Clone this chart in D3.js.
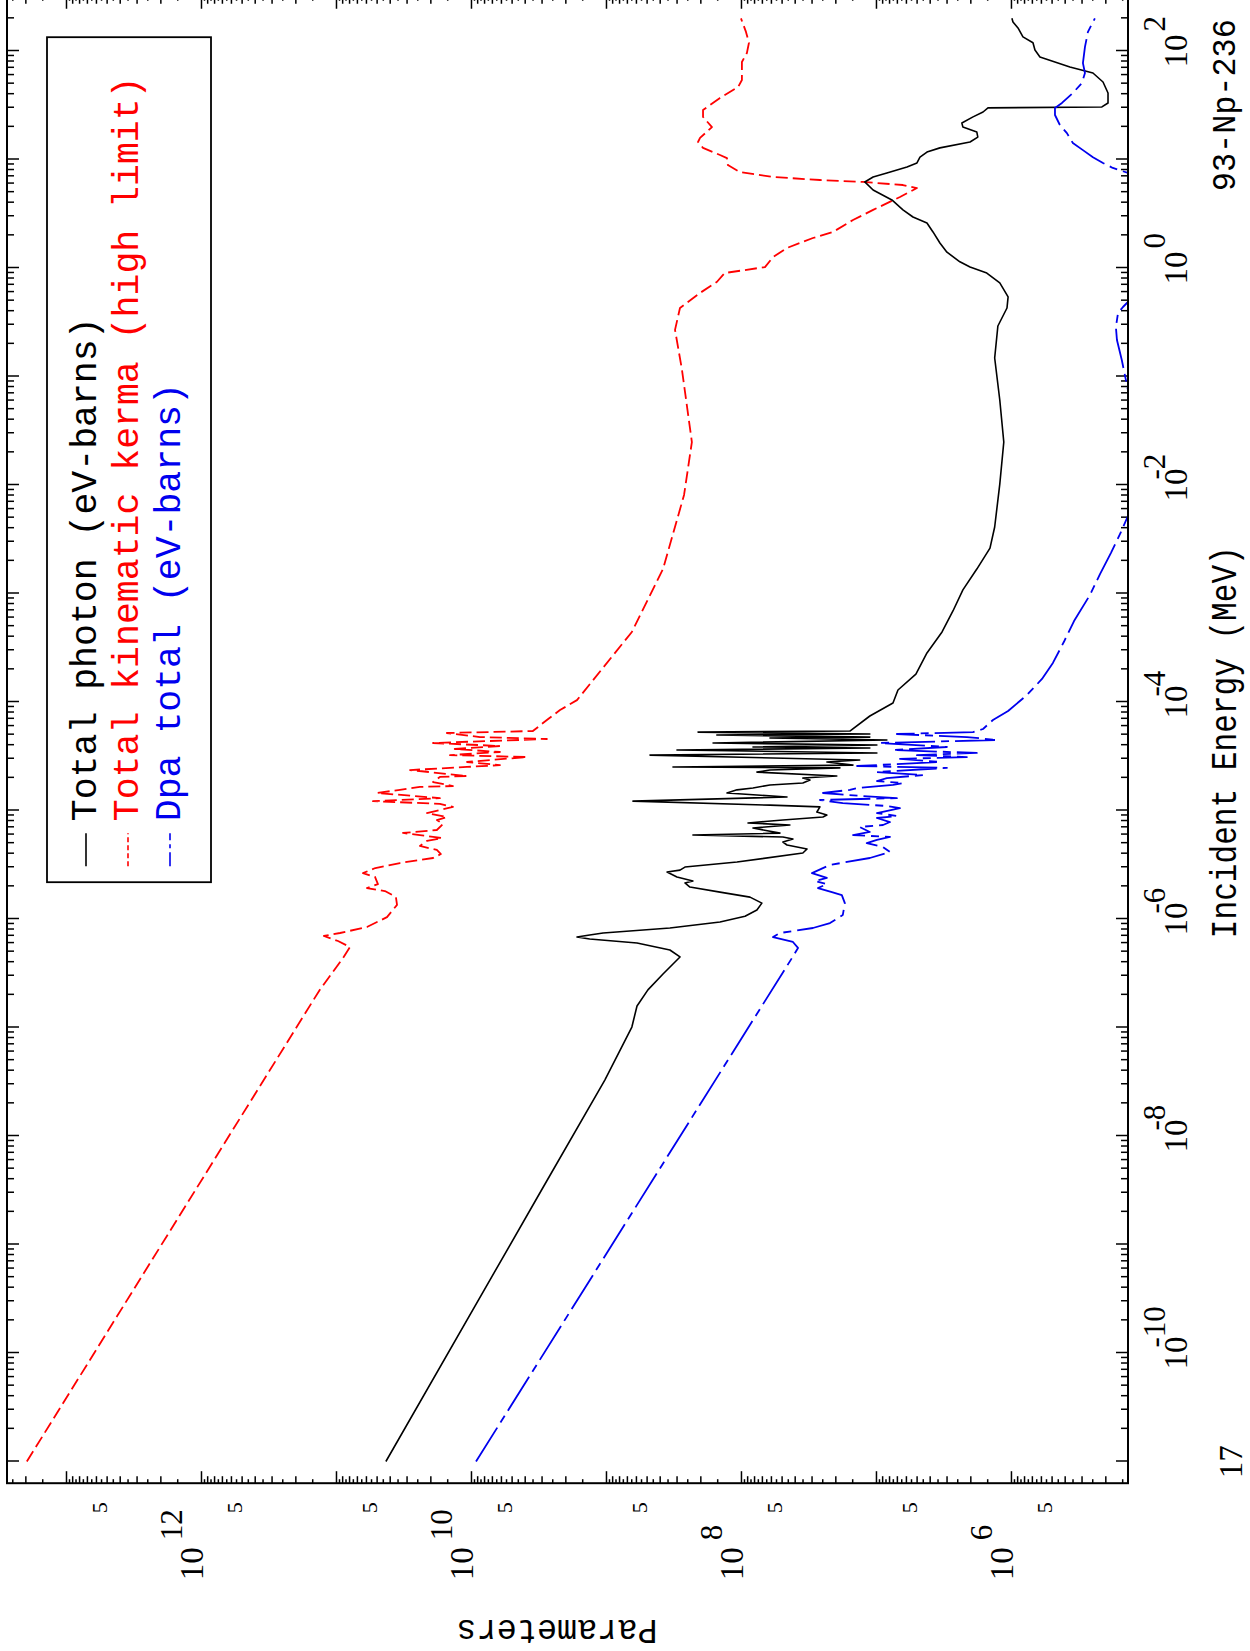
<!DOCTYPE html>
<html><head><meta charset="utf-8">
<script src="https://cdn.jsdelivr.net/npm/d3@7/dist/d3.min.js"></script>
<style>html,body{margin:0;padding:0;background:#fff;} svg{display:block}</style>
</head><body>
<svg id="chart" width="1250" height="1651"></svg>
<script>
// ---------------- DATA ----------------
// axis ranges (MeV on energy axis, parameter value on the other)
const energyDomain = [Math.pow(10, -11.2), Math.pow(10, 2.5)];
const paramDomain  = [Math.pow(10, 13.437), Math.pow(10, 5.133)];

const energyDecades   = [-11,-10,-9,-8,-7,-6,-5,-4,-3,-2,-1,0,1,2];
const energyMinorMult = [2,3,4,5,6,7,8,9];
const paramDecades    = [5,6,7,8,9,10,11,12,13];
const paramMinorInt   = [2,3,4,5,6,7,8,9];
const paramMinorHalf  = [1.5,2.5,3.5,4.5,5.5,6.5,7.5,8.5,9.5];

const energyLabelExps = [-10,-8,-6,-4,-2,0,2];
const paramLabelExps  = [12,10,8,6];
const paramFiveExps   = [12,11,10,9,8,7,6,5];

const legendLabels = ["Total photon (eV-barns)", "Total kinematic kerma (high limit)", "Dpa total (eV-barns)"];
const seriesColors = ["#000000", "#ff0000", "#0000ee"];

// Total photon (eV-barns): [energy MeV, value]
const photon = [
[1e-11,4.27e10],[3.18e-9,3.0e9],[3.28e-8,1.02e9],[1.01e-7,6.43e8],[1.58e-7,5.89e8],[2.22e-7,4.89e8],[3.11e-7,3.78e8],[4.47e-7,2.83e8],[5.18e-7,3.36e8],[6.01e-7,5.89e8],[6.55e-7,1.32e9],[6.82e-7,1.64e9],[7.11e-7,1.32e9],[7.43e-7,1.05e9],[8.26e-7,3.36e8],[9.38e-7,1.43e8],[1.06e-6,9.33e7],[1.21e-6,7.62e7],[1.40e-6,7.00e7],[1.59e-6,8.57e7],[1.77e-6,1.43e8],[1.97e-6,2.39e8],[2.15e-6,2.60e8],[2.24e-6,2.27e8],[2.44e-6,2.98e8],[2.71e-6,3.53e8],[2.82e-6,2.83e8],[3.01e-6,2.60e8],[3.35e-6,1.07e8],[4.06e-6,3.48e7],[4.42e-6,3.24e7],[4.81e-6,4.56e7],[5.12e-6,4.89e7],[5.46e-6,4.12e7],[5.70e-6,4.89e7],[5.94e-6,2.27e8],[6.19e-6,5.14e7],[6.90e-6,8.15e7],[7.35e-6,4.34e7],[7.67e-6,8.87e7],[8.17e-6,4.89e7],[8.71e-6,2.47e7],[9.08e-6,2.31e7],[9.68e-6,2.74e7],[1.08e-5,2.60e7],[1.12e-5,6.10e7],[1.22e-5,6.31e8],[1.33e-5,4.56e7],[1.39e-5,7.62e7],[1.45e-5,1.27e8],[1.55e-5,1.07e8],[1.61e-5,8.15e7],[1.72e-5,6.10e7],[1.79e-5,3.48e7],[1.91e-5,3.08e7],[1.99e-5,3.48e7],[2.08e-5,1.95e7],[2.26e-5,7.62e7],[2.36e-5,6.10e7],[2.47e-5,1.85e7],[2.52e-5,3.19e8],[2.62e-5,1.48e7],[2.80e-5,2.31e7],[2.92e-5,1.32e7],[3.24e-5,4.72e8],[3.39e-5,9.84e6],[3.61e-5,2.98e8],[3.77e-5,1.11e7],[3.85e-5,8.15e7],[4.01e-5,9.84e6],[4.19e-5,1.61e8],[4.47e-5,8.30e6],[4.66e-5,6.10e7],[4.75e-5,1.11e7],[4.97e-5,1.51e8],[5.07e-5,1.11e7],[5.28e-5,2.08e8],[5.40e-5,1.56e7],[7.43e-5,1.11e7],[9.79e-5,7.48e6],[1.29e-4,6.87e6],[1.81e-4,5.06e6],[2.83e-4,4.19e6],[4.42e-4,3.24e6],[6.90e-4,2.69e6],[1.08e-3,2.27e6],[1.68e-3,1.79e6],[2.62e-3,1.43e6],[4.10e-3,1.32e6],[1.02e-2,1.21e6],[2.49e-2,1.13e6],[6.07e-2,1.21e6],[0.148,1.32e6],[0.292,1.25e6],[0.428,1.07e6],[0.541,1.05e6],[0.728,1.21e6],[0.899,1.51e6],[1.02,2.01e6],[1.14,2.39e6],[1.40,2.98e6],[1.70,3.36e6],[2.15,3.78e6],[2.60,4.19e6],[2.95,5.32e6],[3.43,6.31e6],[4.24,7.62e6],[5.24,1.05e7],[6.21,1.21e7],[6.90,1.05e7],[7.52,8.30e6],[8.53,5.89e6],[9.29,4.97e6],[10.5,4.72e6],[11.7,4.19e6],[12.8,3.36e6],[14.5,2.01e6],[16.1,1.76e6],[17.9,1.79e6],[19.9,2.27e6],[21.7,2.31e6],[24.7,1.91e6],[27.4,1.61e6],[29.9,1.48e6],[30.5,2.12e5],[33.2,1.91e5],[41.0,1.91e5],[51.8,2.08e5],[62.7,2.47e5],[71.1,3.66e5],[88.1,6.10e5],[102,6.64e5],[119,6.87e5],[135,8.15e5],[163,8.87e5],[185,9.66e5],[200,9.84e5]
];

// Total kinematic kerma (high limit)
const kerma = [
[1e-11,1.95e13],[2.22e-7,1.32e11],[4.37e-7,8.87e10],[5.52e-7,7.87e10],[6.27e-7,9.66e10],[6.97e-7,1.23e11],[7.43e-7,9.33e10],[8.43e-7,5.90e10],[1.04e-6,4.19e10],[1.35e-6,3.53e10],[1.60e-6,3.60e10],[1.81e-6,4.34e10],[1.93e-6,5.90e10],[2.10e-6,4.89e10],[2.44e-6,5.14e10],[2.65e-6,6.31e10],[2.95e-6,5.11e10],[3.28e-6,3.36e10],[3.65e-6,1.91e10],[3.97e-6,1.67e10],[4.33e-6,1.79e10],[4.71e-6,2.39e10],[5.24e-6,2.12e10],[5.57e-6,1.64e10],[5.94e-6,2.39e10],[6.21e-6,3.19e10],[6.61e-6,1.79e10],[7.50e-6,1.61e10],[8.17e-6,1.79e10],[8.71e-6,1.51e10],[9.48e-6,2.12e10],[1.08e-5,1.36e10],[1.15e-5,1.70e10],[1.22e-5,5.32e10],[1.30e-5,1.70e10],[1.45e-5,4.97e10],[1.55e-5,3.36e10],[1.65e-5,2.39e10],[1.68e-5,1.36e10],[1.83e-5,1.91e10],[2.04e-5,1.70e10],[2.08e-5,1.07e10],[2.36e-5,2.83e10],[2.52e-5,1.07e10],[2.62e-5,6.10e9],[2.80e-5,1.07e10],[3.11e-5,3.85e9],[3.24e-5,1.43e10],[3.46e-5,6.10e9],[3.69e-5,1.32e10],[3.93e-5,6.10e9],[4.19e-5,1.91e10],[4.56e-5,2.74e9],[4.75e-5,8.57e9],[5.18e-5,1.51e10],[5.40e-5,3.48e9],[6.82e-5,2.74e9],[8.43e-5,2.19e9],[1.04e-4,1.64e9],[4.42e-4,6.43e8],[1.68e-3,3.78e8],[8.09e-3,2.64e8],[2.49e-2,2.31e8],[0.117,2.74e8],[0.269,3.08e8],[0.428,2.83e8],[0.589,2.01e8],[0.743,1.51e8],[0.899,1.32e8],[1.02,6.64e7],[1.26,5.79e7],[1.53,4.56e7],[1.89,2.93e7],[2.15,2.08e7],[2.77,1.48e7],[3.43,1.05e7],[4.51,6.64e6],[5.46,4.97e6],[5.82,6.31e6],[6.21,1.25e7],[6.47,2.60e7],[6.90,5.79e7],[7.67,1.02e8],[8.89,1.25e8],[10.3,1.27e8],[11.0,1.43e8],[12.8,1.91e8],[14.5,2.08e8],[15.8,2.01e8],[19.9,1.64e8],[24.7,1.91e8],[28.6,1.91e8],[36.9,1.43e8],[46.6,1.05e8],[54.1,9.84e7],[79.2,9.84e7],[95.9,9.04e7],[119,8.73e7],[150,9.18e7],[200,1.0e8]
];

// Dpa total (eV-barns)
const dpa = [
[1e-11,9.18e9],[4.37e-7,4.19e7],[5.41e-7,3.78e7],[6.14e-7,4.12e7],[6.82e-7,5.79e7],[7.43e-7,5.14e7],[8.26e-7,2.93e7],[9.18e-7,2.19e7],[1.09e-6,1.76e7],[1.40e-6,1.70e7],[1.66e-6,1.79e7],[1.77e-6,2.12e7],[1.93e-6,2.69e7],[2.10e-6,2.31e7],[2.24e-6,2.83e7],[2.39e-6,2.31e7],[2.65e-6,2.98e7],[3.15e-6,2.19e7],[3.65e-6,1.11e7],[4.14e-6,7.87e6],[4.60e-6,8.87e6],[5.01e-6,1.17e7],[5.35e-6,9.84e6],[5.70e-6,7.87e6],[5.94e-6,1.48e7],[6.34e-6,1.11e7],[7.05e-6,1.32e7],[7.35e-6,8.87e6],[7.83e-6,7.87e6],[8.53e-6,9.84e6],[8.89e-6,7.00e6],[9.48e-6,9.84e6],[1.05e-5,6.64e6],[1.10e-5,8.30e6],[1.17e-5,1.76e7],[1.25e-5,2.60e7],[1.30e-5,7.00e6],[1.39e-5,1.64e7],[1.45e-5,2.47e7],[1.55e-5,1.56e7],[1.61e-5,1.38e7],[1.72e-5,7.48e6],[1.79e-5,6.31e6],[1.87e-5,9.84e6],[1.99e-5,8.30e6],[2.12e-5,4.49e6],[2.26e-5,9.84e6],[2.47e-5,2.98e6],[2.57e-5,1.38e7],[2.80e-5,3.36e6],[2.99e-5,6.64e6],[3.11e-5,2.12e6],[3.24e-5,4.97e6],[3.39e-5,1.79e6],[3.61e-5,7.48e6],[3.85e-5,2.98e6],[4.19e-5,9.33e6],[4.47e-5,1.27e6],[4.75e-5,2.12e6],[5.07e-5,7.00e6],[5.28e-5,1.91e6],[5.64e-5,1.61e6],[6.82e-5,1.36e6],[8.26e-5,1.05e6],[1.16e-4,7.62e5],[1.63e-4,5.89e5],[2.29e-4,4.89e5],[3.57e-4,4.06e5],[5.57e-4,3.41e5],[9.68e-4,2.60e5],[1.51e-3,2.19e5],[2.36e-3,1.82e5],[3.69e-3,1.53e5],[5.18e-3,1.36e5],[2.10e-2,7.2e4],[7.52e-2,1.36e5],[0.142,1.51e5],[0.217,1.64e5],[0.286,1.67e5],[0.385,1.61e5],[0.437,1.48e5],[0.486,1.36e5],[1.81,7.9e4],[7.52,1.36e5],[8.36,1.76e5],[9.29,2.08e5],[10.5,2.47e5],[12.2,2.93e5],[14.2,3.48e5],[17.5,3.85e5],[20.8,4.34e5],[25.7,4.72e5],[29.9,4.72e5],[33.2,4.19e5],[41.0,3.48e5],[50.7,2.98e5],[62.7,2.83e5],[77.4,2.93e5],[109,2.83e5],[150,2.69e5],[200,2.39e5]
];

// ---------------- DRAWING ----------------
const svg = d3.select('#chart');
svg.append('rect').attr('width',1250).attr('height',1651).attr('fill','#fff');
const W = 1486.45, H = 1121;
// the whole plot is drawn in its natural orientation and then turned a quarter-turn
const g = svg.append('g').attr('transform','translate(7,1483.2) rotate(-90)');
const x = d3.scaleLog().domain(energyDomain).range([0, W]);
const y = d3.scaleLog().domain(paramDomain).range([0, H]);

g.append('clipPath').attr('id','plotclip').append('rect').attr('width',W).attr('height',H);

const serif = "'Liberation Serif','DejaVu Serif',serif";
const mono = "'Liberation Mono','DejaVu Sans Mono',monospace";

// tick value sets
const eMaj = energyDecades.map(e => Math.pow(10,e));
const eMin = [];
energyDecades.forEach(e => energyMinorMult.forEach(m => { const v = m*Math.pow(10,e); if (v>=energyDomain[0] && v<=energyDomain[1]) eMin.push(v); }));
const pMaj = paramDecades.map(e => Math.pow(10,e)).filter(v => v<=paramDomain[0] && v>=paramDomain[1]);
const pInt = [], pHalf = [];
paramDecades.forEach(e => {
  paramMinorInt.forEach(m => { const v=m*Math.pow(10,e); if (v<=paramDomain[0] && v>=paramDomain[1]) pInt.push(v); });
  paramMinorHalf.forEach(m => { const v=m*Math.pow(10,e); if (v<=paramDomain[0] && v>=paramDomain[1]) pHalf.push(v); });
});

function drawAxis(axisFn, scale, vals, len, tx, ty) {
  const a = axisFn(scale).tickValues(vals).tickSize(-len).tickSizeOuter(0).tickFormat('');
  const ag = g.append('g').attr('transform', `translate(${tx},${ty})`).call(a);
  ag.select('.domain').remove();
  ag.selectAll('line').attr('stroke','#000').attr('stroke-width',1.5);
}
// energy axis (bottom and top of natural frame)
drawAxis(d3.axisBottom, x, eMaj, 12, 0, H);
drawAxis(d3.axisBottom, x, eMin, 7, 0, H);
drawAxis(d3.axisTop, x, eMaj, 12, 0, 0);
drawAxis(d3.axisTop, x, eMin, 7, 0, 0);
// parameter axis (left and right of natural frame)
drawAxis(d3.axisLeft, y, pMaj, 12, 0, 0);
drawAxis(d3.axisLeft, y, pInt, 7, 0, 0);
drawAxis(d3.axisLeft, y, pHalf, 4, 0, 0);
drawAxis(d3.axisRight, y, pMaj, 12, W, 0);
drawAxis(d3.axisRight, y, pInt, 7, W, 0);
drawAxis(d3.axisRight, y, pHalf, 4, W, 0);

// curves
const line = d3.line().x(d => x(d[0])).y(d => y(d[1]));
const cg = g.append('g').attr('clip-path','url(#plotclip)');
cg.append('path').datum(kerma).attr('d', line).attr('fill','none')
  .attr('stroke', seriesColors[1]).attr('stroke-width',1.8).attr('stroke-dasharray','12,5').attr('stroke-linejoin','round');
cg.append('path').datum(photon).attr('d', line).attr('fill','none')
  .attr('stroke', seriesColors[0]).attr('stroke-width',1.6).attr('stroke-linejoin','round');
cg.append('path').datum(dpa).attr('d', line).attr('fill','none')
  .attr('stroke', seriesColors[2]).attr('stroke-width',1.8).attr('stroke-dasharray','40,6,8,6').attr('stroke-linejoin','round');

// frame
g.append('rect').attr('width',W).attr('height',H).attr('fill','none').attr('stroke','#000').attr('stroke-width',2);

// energy tick labels
energyLabelExps.forEach(e => {
  const u = x(Math.pow(10,e));
  const t = g.append('text').attr('x',u).attr('y',1180).attr('text-anchor','middle')
    .attr('font-family',serif).attr('font-size',33).text('10');
  const w = t.node().getComputedTextLength();
  const sx = e < 0 ? u + w/2 - 11 : u + w/2 + 3;
  g.append('text').attr('x',sx).attr('y',1158).attr('font-family',serif).attr('font-size',31)
    .text(e < 0 ? '-' + (-e) : String(e));
});
// parameter tick labels
paramLabelExps.forEach(e => {
  const v = y(Math.pow(10,e));
  g.append('text').attr('x',-97).attr('y',v+2).attr('font-family',serif).attr('font-size',33).text('10');
  g.append('text').attr('x',-57).attr('y',v-19).attr('font-family',serif).attr('font-size',31).text(String(e));
});
paramFiveExps.forEach(e => {
  const v = y(5*Math.pow(10,e));
  g.append('text').attr('x',-19).attr('y',v).attr('text-anchor','end').attr('font-family',serif).attr('font-size',22).text('5');
});

// axis titles and annotations
g.append('text').attr('x',741).attr('y',1229).attr('text-anchor','middle').attr('font-family',mono)
  .attr('font-size',36).attr('textLength',392).attr('lengthAdjust','spacingAndGlyphs').text('Incident Energy (MeV)');
g.append('text').attr('transform','translate(-137,550) rotate(-90)').attr('text-anchor','middle').attr('font-family',mono)
  .attr('font-size',35).attr('textLength',201).attr('lengthAdjust','spacingAndGlyphs').text('Parameters');
g.append('text').attr('x',1292).attr('y',1228).attr('font-family',mono)
  .attr('font-size',34).attr('textLength',172).attr('lengthAdjust','spacingAndGlyphs').text('93-Np-236');
g.append('text').attr('x',5).attr('y',1235).attr('font-family',serif).attr('font-size',33).text('17');

// legend
g.append('rect').attr('x',601).attr('y',40).attr('width',845).attr('height',164)
  .attr('fill','#fff').attr('stroke','#000').attr('stroke-width',1.8);
const legDash = [null, '5,3', '14,4,4,4'];
const legBase = [89, 131, 173];
legendLabels.forEach((lab,i) => {
  const ln = g.append('line').attr('x1',617).attr('x2',650).attr('y1',legBase[i]-10).attr('y2',legBase[i]-10)
    .attr('stroke',seriesColors[i]).attr('stroke-width',1.6);
  if (legDash[i]) ln.attr('stroke-dasharray',legDash[i]);
  g.append('text').attr('x',662).attr('y',legBase[i]).attr('font-family',mono).attr('font-size',36.5)
    .attr('fill',seriesColors[i]).text(lab);
});
</script>
</body></html>
